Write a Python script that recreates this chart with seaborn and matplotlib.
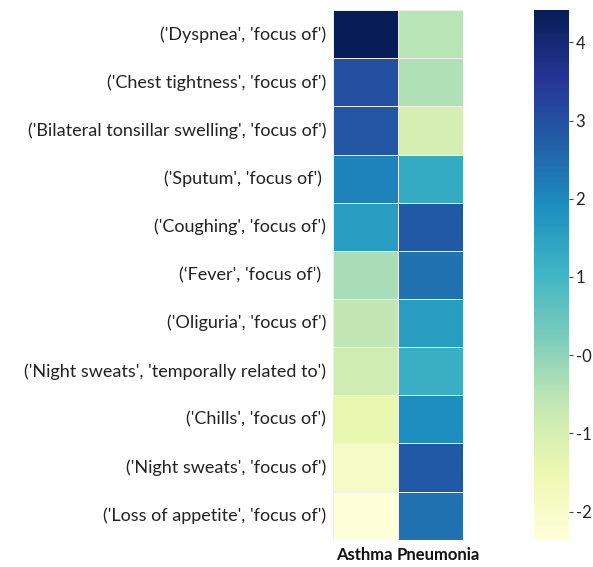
import numpy as np
import pandas as pd
import matplotlib
matplotlib.use("Agg")
import matplotlib.pyplot as plt
import matplotlib.transforms as mtransforms
import seaborn as sns

rows = [
    "('Dyspnea', 'focus of')",
    "('Chest tightness', 'focus of')",
    "('Bilateral tonsillar swelling', 'focus of')",
    "('Sputum', 'focus of') ",
    "('Coughing', 'focus of')",
    "(\u2018Fever', 'focus of') ",
    "('Oliguria', 'focus of')",
    "('Night sweats', 'temporally related to')",
    "('Chills', 'focus of')",
    "('Night sweats', 'focus of')",
    "('Loss of appetite', 'focus of')",
]
columns = ["Asthma", "Pneumonia"]
asthma = [4.41, 3.0, 2.85, 2.1, 1.6, -0.3, -0.6, -0.85, -1.45, -1.9, -2.36]
pneumonia = [-0.5, -0.4, -1.0, 1.3, 2.8, 2.4, 1.6, 1.2, 1.9, 2.8, 2.4]

df = pd.DataFrame({"Asthma": asthma, "Pneumonia": pneumonia}, index=rows)

sns.set_style("white")
plt.rcParams["font.family"] = ["Lato", "DejaVu Sans"]

fig = plt.figure(figsize=(5.93, 5.67), dpi=100)
ax = fig.add_axes([0.5615, 0.048, 0.2195, 0.934])
cax = fig.add_axes([0.900, 0.048, 0.059, 0.934])

sns.heatmap(df, ax=ax, cbar_ax=cax, cmap="YlGnBu", linewidths=0.6, linecolor="#eeeeee",
            vmin=min(asthma), vmax=max(asthma))

ax.set_yticklabels(rows, rotation=0, fontsize=13, color="#222222")
ax.set_xticklabels(columns, rotation=0, fontsize=12, fontweight="bold", color="#111111")
ax.tick_params(axis="both", length=3, width=0.8, color="#444444", pad=2)
xl = ax.get_xticklabels()
xl[0].set_transform(xl[0].get_transform() + mtransforms.ScaledTranslation(-1 / 100, 0, fig.dpi_scale_trans))
xl[1].set_transform(xl[1].get_transform() + mtransforms.ScaledTranslation(8 / 100, 0, fig.dpi_scale_trans))

cax.tick_params(labelsize=12, length=3, width=0.8, color="#444444", pad=2)
cax.set_yticks([-2, -1, 0, 1, 2, 3, 4])
cax.set_yticklabels(["-2", "-1", "-0", "1", "2", "3", "4"])
for t in cax.get_yticklabels():
    t.set_color("#222222")
for s in cax.spines.values():
    s.set_visible(False)

fig.savefig("out.png", dpi=100)
